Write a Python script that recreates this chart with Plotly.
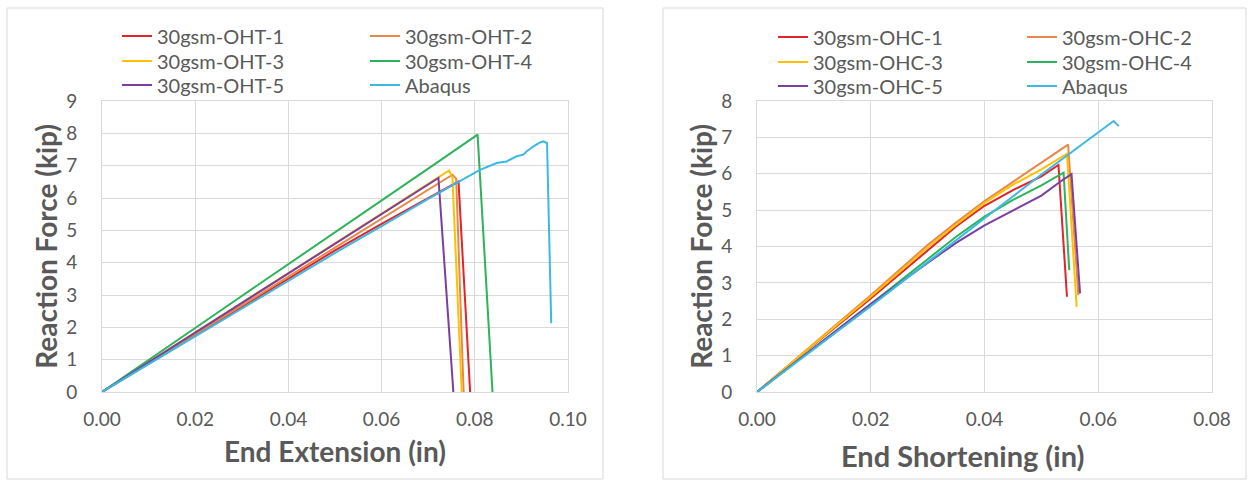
import plotly.graph_objects as go

# ---------------- Data: left panel (open-hole tension) ----------------
oht_names = ["30gsm-OHT-1", "30gsm-OHT-2", "30gsm-OHT-3", "30gsm-OHT-4", "30gsm-OHT-5", "Abaqus"]
oht1_x = [0.0, 0.010, 0.020, 0.030, 0.040, 0.050, 0.060, 0.070, 0.0765, 0.0790]
oht1_y = [0.0, 0.88, 1.76, 2.64, 3.52, 4.38, 5.20, 5.98, 6.51, 0.0]
oht2_x = [0.0, 0.010, 0.020, 0.030, 0.040, 0.050, 0.060, 0.070, 0.0752, 0.0760, 0.0776]
oht2_y = [0.0, 0.90, 1.79, 2.68, 3.57, 4.46, 5.36, 6.25, 6.72, 6.60, 0.0]
oht3_x = [0.0, 0.010, 0.020, 0.030, 0.040, 0.050, 0.060, 0.070, 0.0745, 0.0752, 0.0772]
oht3_y = [0.0, 0.92, 1.84, 2.76, 3.67, 4.59, 5.51, 6.42, 6.85, 6.62, 0.0]
oht4_x = [0.0, 0.010, 0.020, 0.030, 0.040, 0.050, 0.060, 0.070, 0.0806, 0.0838]
oht4_y = [0.0, 1.00, 1.98, 2.97, 3.95, 4.94, 5.93, 6.91, 7.96, 0.0]
oht5_x = [0.0, 0.010, 0.020, 0.030, 0.040, 0.050, 0.060, 0.070, 0.0722, 0.0754]
oht5_y = [0.0, 0.92, 1.84, 2.75, 3.67, 4.59, 5.50, 6.42, 6.62, 0.0]
ohta_x = [0.0, 0.010, 0.020, 0.030, 0.040, 0.050, 0.060, 0.070, 0.0811, 0.0847,
          0.0868, 0.0890, 0.0904, 0.0911, 0.0926, 0.0940, 0.0947, 0.0955, 0.0964]
ohta_y = [0.0, 0.86, 1.72, 2.58, 3.44, 4.30, 5.13, 5.97, 6.87, 7.08,
          7.13, 7.29, 7.34, 7.44, 7.60, 7.72, 7.75, 7.70, 2.13]

# ---------------- Data: right panel (open-hole compression) ----------------
ohc_names = ["30gsm-OHC-1", "30gsm-OHC-2", "30gsm-OHC-3", "30gsm-OHC-4", "30gsm-OHC-5", "Abaqus"]
ohc1_x = [0.0, 0.010, 0.020, 0.030, 0.035, 0.040, 0.045, 0.050, 0.0530, 0.0545]
ohc1_y = [0.0, 1.30, 2.57, 3.90, 4.55, 5.12, 5.55, 5.93, 6.24, 2.62]
ohc2_x = [0.0, 0.010, 0.020, 0.030, 0.035, 0.040, 0.045, 0.050, 0.0547, 0.0565]
ohc2_y = [0.0, 1.34, 2.66, 4.04, 4.66, 5.25, 5.78, 6.30, 6.80, 2.66]
ohc3_x = [0.0, 0.010, 0.020, 0.030, 0.035, 0.040, 0.045, 0.050, 0.0545, 0.0562]
ohc3_y = [0.0, 1.32, 2.62, 3.97, 4.60, 5.20, 5.70, 6.12, 6.55, 2.34]
ohc4_x = [0.0, 0.010, 0.020, 0.030, 0.035, 0.040, 0.045, 0.050, 0.0539, 0.0549]
ohc4_y = [0.0, 1.20, 2.42, 3.65, 4.27, 4.82, 5.28, 5.68, 6.03, 3.35]
ohc5_x = [0.0, 0.010, 0.020, 0.030, 0.035, 0.040, 0.045, 0.050, 0.0533, 0.0553, 0.0568]
ohc5_y = [0.0, 1.22, 2.42, 3.55, 4.10, 4.58, 5.00, 5.40, 5.78, 5.99, 2.71]
ohca_x = [0.0, 0.010, 0.020, 0.030, 0.040, 0.050, 0.0627, 0.0636]
ohca_y = [0.0, 1.17, 2.36, 3.57, 4.78, 5.98, 7.45, 7.31]

colors = ["#E3232C", "#E8894A", "#FFC000", "#2DB35B", "#7B3FA0", "#3CB9E3"]

left_x = [oht1_x, oht2_x, oht3_x, oht4_x, oht5_x, ohta_x]
left_y = [oht1_y, oht2_y, oht3_y, oht4_y, oht5_y, ohta_y]
right_x = [ohc1_x, ohc2_x, ohc3_x, ohc4_x, ohc5_x, ohca_x]
right_y = [ohc1_y, ohc2_y, ohc3_y, ohc4_y, ohc5_y, ohca_y]

FONT = "Lato"
GRAY = "#595959"
GRID = "#D9D9D9"

W, H = 1250, 480
def px(v):
    return v / W
def py(v):
    return 1 - v / H

fig = go.Figure()

# legend slots: two columns x three rows per panel (pixel anchors)
left_leg_pos = [(117, 36), (365, 36), (117, 61), (365, 61), (117, 85), (365, 85)]
right_leg_pos = [(773, 37), (1022, 37), (773, 62), (1022, 62), (773, 86), (1022, 86)]

legend_common = dict(font=dict(family=FONT, size=20, color=GRAY), bgcolor="rgba(0,0,0,0)",
                     orientation="v", xanchor="left", yanchor="middle",
                     itemwidth=30, borderwidth=0)

legend_layout = {}
for i in range(6):
    key = "legend" if i == 0 else "legend%d" % (i + 1)
    fig.add_trace(go.Scatter(x=left_x[i], y=left_y[i], mode="lines", name=oht_names[i],
                             line=dict(color=colors[i], width=2), xaxis="x", yaxis="y",
                             legend=key))
    legend_layout[key] = dict(x=px(left_leg_pos[i][0]), y=py(left_leg_pos[i][1]), **legend_common)
for i in range(6):
    key = "legend%d" % (i + 7)
    fig.add_trace(go.Scatter(x=right_x[i], y=right_y[i], mode="lines", name=ohc_names[i],
                             line=dict(color=colors[i], width=2), xaxis="x2", yaxis="y2",
                             legend=key))
    legend_layout[key] = dict(x=px(right_leg_pos[i][0]), y=py(right_leg_pos[i][1]), **legend_common)

axis_common = dict(showgrid=True, gridcolor=GRID, gridwidth=1, zeroline=False,
                   showline=True, linecolor=GRID, linewidth=1, mirror=True, automargin=False,
                   tickfont=dict(family=FONT, size=19, color=GRAY),
                   ticks="outside", tickcolor="rgba(0,0,0,0)")

title_font = dict(family=FONT, size=28, color=GRAY)

fig.update_layout(
    width=W, height=H,
    margin=dict(l=0, r=0, t=0, b=0, autoexpand=False),
    paper_bgcolor="white", plot_bgcolor="white",
    showlegend=True,
    xaxis=dict(domain=[px(102), px(568)], range=[0, 0.10], dtick=0.02, tickformat=".2f",
               anchor="y", ticklen=10,
               title=dict(text="<b>End Extension (in)</b>", font=title_font, standoff=13),
               **axis_common),
    yaxis=dict(domain=[py(392), py(101)], range=[0, 9], dtick=1, anchor="x", ticklen=20,
               title=dict(text="<b>Reaction Force (kip)</b>", font=title_font, standoff=0),
               **axis_common),
    xaxis2=dict(domain=[px(757), px(1212)], range=[0, 0.08], dtick=0.02, tickformat=".2f",
                anchor="y2", ticklen=10, **axis_common),
    yaxis2=dict(domain=[py(392), py(101)], range=[0, 8], dtick=1, anchor="x2", ticklen=20,
                title=dict(text="<b>Reaction Force (kip)</b>", font=title_font, standoff=0),
                **axis_common),
    annotations=[
        dict(text="<b>End Shortening (in)</b>", xref="paper", yref="paper",
             x=px(963), y=py(455), xanchor="center", yanchor="middle", showarrow=False,
             font=dict(family=FONT, size=29, color=GRAY)),
    ],
    shapes=[
        dict(type="rect", xref="paper", yref="paper", x0=px(7), x1=px(603), y0=py(479), y1=py(8),
             line=dict(color=GRID, width=1), fillcolor="rgba(0,0,0,0)", layer="below"),
        dict(type="rect", xref="paper", yref="paper", x0=px(663), x1=px(1246), y0=py(479), y1=py(8),
             line=dict(color=GRID, width=1), fillcolor="rgba(0,0,0,0)", layer="below"),
    ],
    **legend_layout,
)

fig.write_html("out.html")
